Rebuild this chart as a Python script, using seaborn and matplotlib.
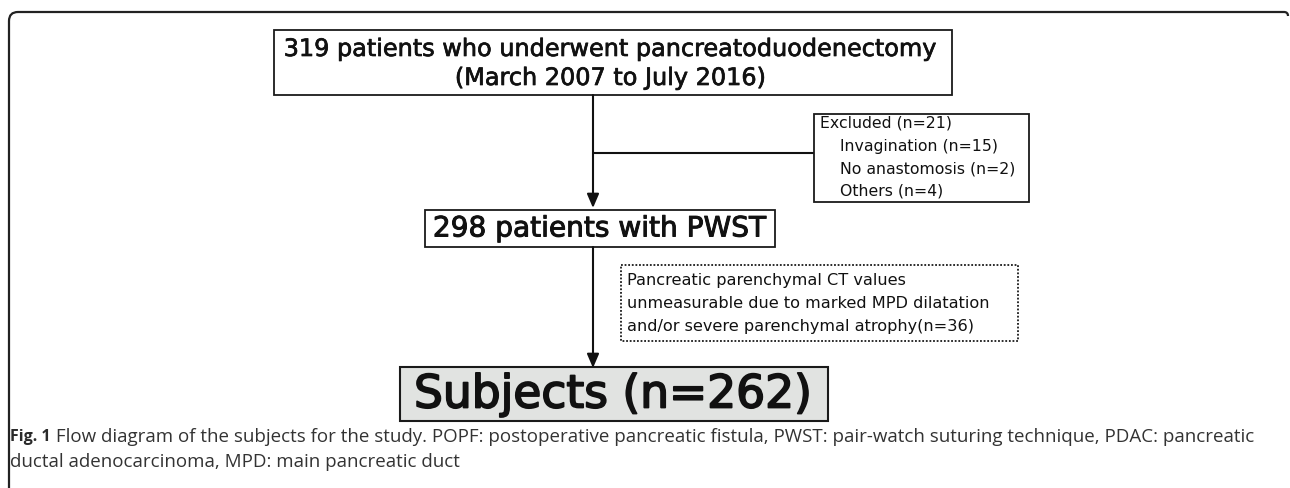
import matplotlib
matplotlib.use("Agg")
import matplotlib.pyplot as plt
import matplotlib.patheffects as pe
import seaborn as sns
from matplotlib.patches import Rectangle
from matplotlib.path import Path
from matplotlib.patches import PathPatch

# ---- data ----
total_patients = 319
period = "(March 2007 to July 2016)"
excluded_total = 21
excluded_labels = ["Invagination", "No anastomosis", "Others"]
excluded_counts = [15, 2, 4]
pwst_patients = 298
unmeasurable_count = 36
subjects = 262
caption_bold = "Fig. 1"
caption_line1 = (" Flow diagram of the subjects for the study. POPF: postoperative pancreatic "
                 "fistula, PWST: pair-watch suturing technique, PDAC: pancreatic")
caption_line2 = "ductal adenocarcinoma, MPD: main pancreatic duct"

sns.set_theme(style="white")
box_font = ["DejaVu Sans"]
cap_font = ["Open Sans", "DejaVu Sans"]

W, H = 1290, 489
fig = plt.figure(figsize=(W / 100, H / 100), dpi=100)
ax = fig.add_axes([0, 0, 1, 1])
ax.set_xlim(0, W)
ax.set_ylim(H, 0)
ax.axis("off")
fig.canvas.draw()
renderer = fig.canvas.get_renderer()


def fit(t, target_w):
    bb = t.get_window_extent(renderer)
    t.set_fontsize(t.get_fontsize() * target_w / bb.width)
    return t.get_fontsize()


def heavy(w):
    return [pe.Stroke(linewidth=w, foreground="#111111"), pe.Normal()]


def box(x0, y0, x1, y1, ls="-", fc="white", lw=1.3):
    ax.add_patch(Rectangle((x0, y0), x1 - x0, y1 - y0, fill=True, fc=fc,
                           ec="#1a1a1a", lw=lw, ls=ls, zorder=2))


def arrow(x, y0, y1):
    ax.annotate("", xy=(x, y1), xytext=(x, y0),
                arrowprops=dict(arrowstyle="-|>,head_length=0.7,head_width=0.3",
                                color="#111111", lw=1.5, shrinkA=0, shrinkB=0),
                zorder=3)


# outer frame (rounded top corners, open bottom)
r = 9
verts = [(9, H + 5), (9, 13 + r), (9, 13), (9 + r, 13), (1284, 13), (1288, 13), (1288, 17)]
codes = [Path.MOVETO, Path.LINETO, Path.CURVE3, Path.CURVE3, Path.LINETO, Path.CURVE3, Path.CURVE3]
ax.add_patch(PathPatch(Path(verts, codes), fill=False, ec="#222222", lw=1.6, zorder=1))

# Box 1
box(274, 31, 952, 96)
t = ax.text(611, 50, f"{total_patients} patients who underwent pancreatoduodenectomy",
            ha="center", va="center", fontsize=16, family=box_font,
            color="#111111", zorder=4, path_effects=heavy(0.5))
fs1 = fit(t, 654)
ax.text(611, 79, period, ha="center", va="center", fontsize=fs1, family=box_font,
        color="#111111", zorder=4, path_effects=heavy(0.5))

# connector + arrow to box 2
arrow(593, 96, 209)
ax.plot([593, 814], [154, 154], color="#111111", lw=1.5, zorder=1)

# Excluded box
box(814, 115, 1029, 203)
t = ax.text(820, 123, f"Excluded (n={excluded_total})", ha="left", va="center",
            fontsize=10, family=box_font, color="#111111", zorder=4)
fse = fit(t, 132)
for lab, n, y in zip(excluded_labels, excluded_counts, [146, 169, 191]):
    ax.text(840, y, f"{lab} (n={n})", ha="left", va="center", fontsize=fse,
            family=box_font, color="#111111", zorder=4)

# Box 2
box(425, 211, 775, 248)
t = ax.text(599, 229.5, f"{pwst_patients} patients with PWST", ha="center", va="center",
            fontsize=22, family=box_font, color="#111111", zorder=4,
            path_effects=heavy(0.7))
fit(t, 333)

# arrow to subjects
arrow(593, 248, 369)

# dotted box
box(621, 266, 1018, 342, ls=(0, (1, 1)), lw=1.3)
lines = ["Pancreatic parenchymal CT values",
         "unmeasurable due to marked MPD dilatation",
         f"and/or severe parenchymal atrophy(n={unmeasurable_count})"]
t = ax.text(627, 303, lines[1], ha="left", va="center", fontsize=10, family=box_font,
            color="#111111", zorder=4)
fsd = fit(t, 361)
for s, y in zip([lines[0], lines[2]], [280, 327]):
    ax.text(627, y, s, ha="left", va="center", fontsize=fsd, family=box_font,
            color="#111111", zorder=4)

# Subjects box
box(400, 368, 828, 422, fc="#e1e3e1", lw=1.5)
t = ax.text(613, 396, f"Subjects (n={subjects})", ha="center", va="center", fontsize=34,
            family=box_font, color="#111111", zorder=4, path_effects=heavy(1.3))
fit(t, 398)

# caption
tb = ax.text(10, 437, caption_bold, ha="left", va="center", fontsize=11.5,
             family=cap_font, weight="bold", color="#2a2a2a", zorder=4)
fig.canvas.draw()
bb = tb.get_window_extent(renderer)
x_after = bb.x1
t1 = ax.text(x_after, 437, caption_line1, ha="left", va="center", fontsize=11.5,
             family=cap_font, color="#333333", zorder=4)
fit(t1, 1256 - x_after)
t2 = ax.text(10, 462, caption_line2, ha="left", va="center", fontsize=t1.get_fontsize(),
             family=cap_font, color="#333333", zorder=4)

fig.savefig("out.png", dpi=100)
